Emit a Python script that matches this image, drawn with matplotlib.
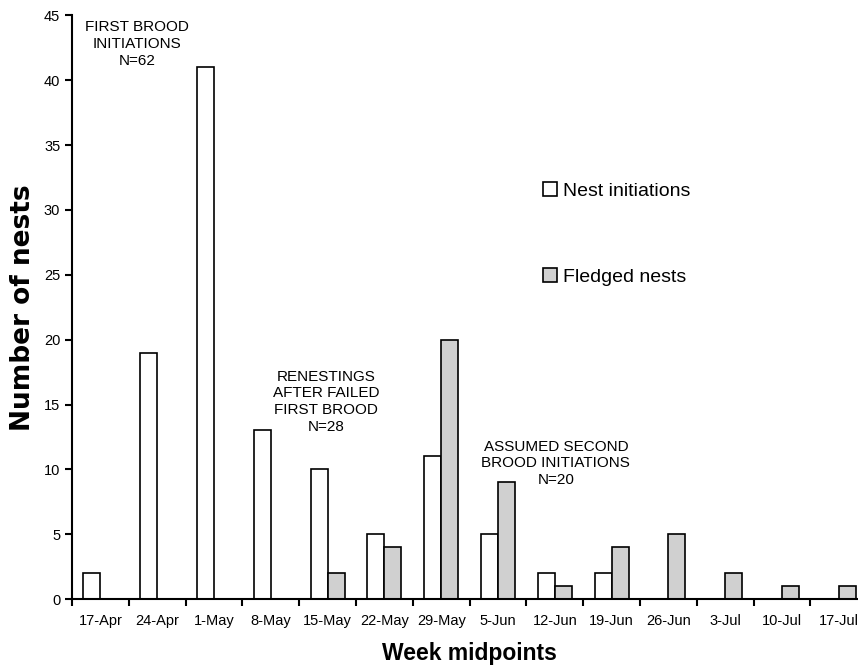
import matplotlib.pyplot as plt
import numpy as np

plt.rcParams['font.family'] = ['Liberation Sans', 'DejaVu Sans']

weeks = ["17-Apr", "24-Apr", "1-May", "8-May", "15-May", "22-May", "29-May",
         "5-Jun", "12-Jun", "19-Jun", "26-Jun", "3-Jul", "10-Jul", "17-Jul"]
initiations = [2, 19, 41, 13, 10, 5, 11, 5, 2, 2, 0, 0, 0, 0]
fledged = [0, 0, 0, 0, 2, 4, 20, 9, 1, 4, 5, 2, 1, 1]

fig = plt.figure(figsize=(8.58, 6.65), dpi=100)
ax = fig.add_axes([0.084, 0.099, 0.9266, 0.878])

x = np.arange(len(weeks))
w = 0.3
ax.bar(x - w / 2, initiations, w, color="white", edgecolor="black", linewidth=1.2,
       label="Nest initiations")
ax.bar(x + w / 2, fledged, w, color="#d0d0d0", edgecolor="black", linewidth=1.2,
       label="Fledged nests")

ax.set_xlim(-0.5, len(weeks) - 0.5)
ax.set_ylim(0, 45)
ax.set_yticks(range(0, 46, 5))
# ticks sit between the weeks, labels in the middle
ax.set_xticks(np.arange(-0.5, len(weeks), 1))
ax.set_xticklabels([])
ax.set_xticks(x, minor=True)
ax.set_xticklabels(weeks, minor=True)
ax.tick_params(axis="x", which="minor", length=0, pad=11, labelsize=10.5)
ax.tick_params(axis="x", which="major", length=5, width=1.5, direction="out")
ax.tick_params(axis="y", length=5, width=1.5, direction="out", labelsize=10.5)

for s in ["top", "right"]:
    ax.spines[s].set_visible(False)
for s in ["left", "bottom"]:
    ax.spines[s].set_linewidth(1.5)

ax.set_xlabel("Week midpoints", fontsize=16.5, fontweight="bold", labelpad=10)
ax.set_ylabel("Number of nests", fontsize=19, fontweight="bold", labelpad=6,
              family="DejaVu Sans")

ax.text(0.64, 44.6, "FIRST BROOD\nINITIATIONS\nN=62", ha="center", va="top",
        fontsize=11, linespacing=1.25)
ax.text(3.97, 17.7, "RENESTINGS\nAFTER FAILED\nFIRST BROOD\nN=28", ha="center",
        va="top", fontsize=11, linespacing=1.25)
ax.text(8.02, 12.3, "ASSUMED SECOND\nBROOD INITIATIONS\nN=20", ha="center",
        va="top", fontsize=11, linespacing=1.25)

ax.legend(loc="upper left", bbox_to_anchor=(0.57, 0.745), frameon=False,
          fontsize=14, handlelength=0.75, handleheight=0.75, handletextpad=0.3,
          labelspacing=3.5)

fig.savefig("out.png", dpi=100)
